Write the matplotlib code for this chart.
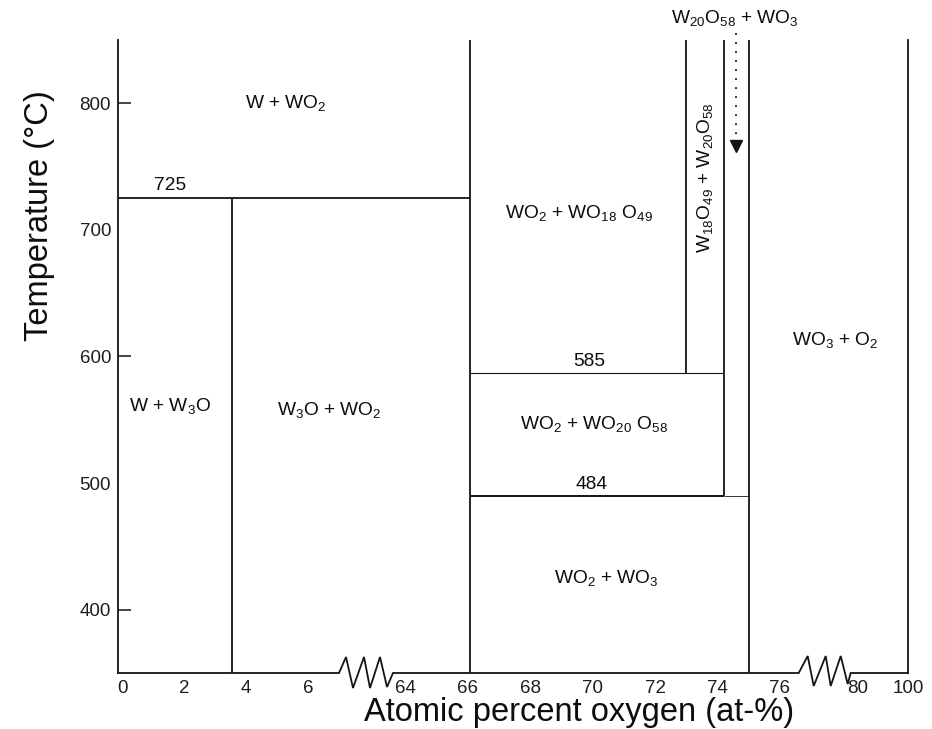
import numpy as np
import matplotlib
matplotlib.use("Agg")
import matplotlib.pyplot as plt
from matplotlib.transforms import blended_transform_factory

plt.rcParams['font.family'] = ['Liberation Sans', 'DejaVu Sans']
plt.rcParams['mathtext.fontset'] = 'custom'
plt.rcParams['mathtext.rm'] = 'Liberation Sans'
plt.rcParams['mathtext.it'] = 'Liberation Sans:italic'
plt.rcParams['mathtext.bf'] = 'Liberation Sans:bold'

# ---------------- data ----------------
x_tick_values = [0, 2, 4, 6, 64, 66, 68, 70, 72, 74, 76, 80, 100]
x_tick_labels = [str(v) for v in x_tick_values]
y_major_ticks = [400, 600, 800]
y_minor_labels = [500, 700]

# phase boundary compositions (at-% O) and temperatures (deg C) as drawn
x_W3O = 3.55
x_WO2 = 66.08
x_W18O49 = 73.0
x_W20O58 = 74.22
x_WO3 = 75.0
T_725 = 725
T_585 = 587
T_484 = 490
T_min, T_max = 350, 850

# vertical boundaries: (x, T_low, T_high)
verticals = [
    (x_W3O, T_min, T_725),
    (x_WO2, T_min, T_max),
    (x_W18O49, T_585, T_max),
    (x_W20O58, T_484, T_max),
    (x_WO3, T_min, T_max),
]
# horizontal boundaries: (T, x_left, x_right, linewidth)
horizontals = [
    (T_725, -0.13, x_WO2, 1.3),
    (T_585, x_WO2, x_W20O58, 0.8),
    (T_484, x_WO2, x_W20O58, 1.4),
    (T_484, x_W20O58, x_WO3, 0.6),
]

# text labels: (x, T, text)
region_labels = [
    (5.3, 800, "W + WO$_2$"),
    (1.55, 561, "W + W$_3$O"),
    (6.7, 558, "W$_3$O + WO$_2$"),
    (69.55, 713, "WO$_2$ + WO$_{18}$ O$_{49}$"),
    (70.05, 547, "WO$_2$ + WO$_{20}$ O$_{58}$"),
    (70.45, 425, "WO$_2$ + WO$_3$"),
]
temp_labels = [
    (1.55, 735, "725"),
    (69.9, 596, "585"),
    (69.95, 499, "484"),
]

# ---------------- broken-axis scale ----------------
seg_x = np.array([-0.13, 7.0, 63.6, 76.6, 76.8, 100.0])
seg_u = np.array([118.0, 339.0, 393.0, 798.7, 850.0, 908.0])


def fwd(x):
    return np.interp(np.asarray(x, dtype=float), seg_x, seg_u)


def inv(u):
    return np.interp(np.asarray(u, dtype=float), seg_u, seg_x)


W, H = 932, 729
fig = plt.figure(figsize=(W / 100, H / 100), dpi=100)
ax = fig.add_axes([118 / W, (H - 673) / H, (908 - 118) / W, (673 - 40) / H])
ax.set_xscale('function', functions=(fwd, inv))
ax.set_xlim(-0.13, 100)
ax.set_ylim(T_min, T_max)

lc = '#141414'
tc = '#0d0d0d'
for s in ['top', 'bottom']:
    ax.spines[s].set_visible(False)
for s in ['left', 'right']:
    ax.spines[s].set_color(lc)
    ax.spines[s].set_linewidth(1.3)

# ticks
ax.set_xticks(x_tick_values)
ax.set_xticklabels(x_tick_labels)
ax.tick_params(axis='x', length=0, pad=5, labelsize=13.5, colors='#1e1e1e')
ax.set_yticks(y_major_ticks)
ax.set_yticklabels([str(v) for v in y_major_ticks])
ax.set_yticks(y_minor_labels, minor=True)
ax.set_yticklabels([str(v) for v in y_minor_labels], minor=True)
ax.tick_params(axis='y', which='major', direction='in', length=9, width=1.1,
               pad=5, labelsize=13.5, color=lc, labelcolor='#1e1e1e')
ax.tick_params(axis='y', which='minor', direction='in', length=0,
               pad=5, labelsize=13.5, labelcolor='#1e1e1e')
ax.tick_params(axis='x', which='minor', length=0)

# boundaries
for x, t0, t1 in verticals:
    ax.plot([x, x], [t0, t1], color=lc, lw=1.3, solid_capstyle='butt')
for t, x0, x1, lw in horizontals:
    ax.plot([x0, x1], [t, t], color=lc, lw=lw, solid_capstyle='butt')

# broken baseline with zigzags (offsets in pixels, converted through the scales)
px_per_T = (673 - 40) / (T_max - T_min)
zig1 = [(0, 0), (7, 16), (14, -15), (25, 16), (31, -15), (41, 16), (48, -14), (54, 0)]
zig2 = [(0, 0), (9, 17), (15, -13), (27, 17), (32, -13), (42, 17), (49, -11), (52, 0)]
base_u = [118.0]
base_dy = [0]
for start, zz in [(339.0, zig1), (798.7, zig2)]:
    for dx, dy in zz:
        base_u.append(start + dx)
        base_dy.append(dy)
base_u.append(908.0)
base_dy.append(0)
bx = inv(base_u)
by = T_min + np.array(base_dy) / px_per_T
ax.plot(bx, by, color=lc, lw=1.3, clip_on=False, solid_joinstyle='miter')

# labels
fs = 13.8
for x, t, s in region_labels:
    ax.text(x, t, s, ha='center', va='center', fontsize=fs, color=tc)
for x, t, s in temp_labels:
    ax.text(x, t, s, ha='center', va='center', fontsize=fs, color=tc)

ax.text(73.6, 741, "W$_{18}$O$_{49}$ + W$_{20}$O$_{58}$", rotation=90,
        ha='center', va='center', fontsize=fs, color=tc)
ax.text(74.56, 867, "W$_{20}$O$_{58}$ + WO$_3$", ha='center', va='center',
        fontsize=fs, color=tc, clip_on=False)

trans = blended_transform_factory(ax.transAxes, ax.transData)
ax.text((835 - 118) / 790, 613, "WO$_3$ + O$_2$", transform=trans,
        ha='center', va='center', fontsize=fs, color=tc)

# dotted arrow
x_arrow = 74.59
ax.plot([x_arrow, x_arrow], [855.5, 773.0], color=lc, lw=1.3,
        linestyle=(0, (1, 4)), clip_on=False)
ax.plot([x_arrow], [766.3], marker='v', markersize=9, color=lc, clip_on=False)

# axis titles
fig.text(579 / W, 1 - 712 / H, "Atomic percent oxygen (at-%)", ha='center',
         va='center', fontsize=23.5, color=tc)
fig.text(40 / W, 1 - 216 / H, "Temperature (°C)", rotation=90, ha='center',
         va='center', fontsize=23.5, color=tc)

fig.savefig("out.png", dpi=100)
